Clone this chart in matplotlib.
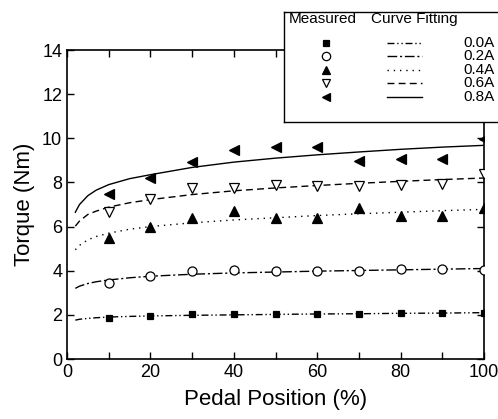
import numpy as np
import matplotlib.pyplot as plt
from matplotlib.ticker import MultipleLocator

plt.rcParams['font.family'] = ['Liberation Sans', 'DejaVu Sans']

# measured points
pos = [10, 20, 30, 40, 50, 60, 70, 80, 90, 100]
meas_00 = [1.87, 1.95, 2.05, 2.06, 2.06, 2.06, 2.06, 2.07, 2.08, 2.08]
meas_02 = [3.43, 3.77, 3.98, 4.03, 4.00, 4.00, 3.98, 4.06, 4.10, 4.03]
meas_04 = [5.46, 5.99, 6.39, 6.71, 6.37, 6.37, 6.86, 6.47, 6.47, 6.82]
meas_06 = [6.64, 7.27, 7.77, 7.77, 7.87, 7.83, 7.83, 7.90, 7.92, 8.40]
meas_08 = [7.47, 8.20, 8.93, 9.46, 9.60, 9.60, 8.97, 9.04, 9.08, 9.99]

# fitted curves
fit_x = [2, 3, 5, 7, 10, 15, 20, 30, 40, 50, 60, 70, 80, 90, 100]
fit_00 = [1.76, 1.80, 1.84, 1.87, 1.90, 1.93, 1.95, 1.98, 2.00, 2.02, 2.04, 2.05, 2.07, 2.08, 2.10]
fit_02 = [3.20, 3.30, 3.42, 3.50, 3.58, 3.68, 3.75, 3.84, 3.90, 3.94, 3.98, 4.01, 4.04, 4.07, 4.10]
fit_04 = [4.95, 5.15, 5.40, 5.55, 5.70, 5.88, 6.00, 6.17, 6.30, 6.40, 6.50, 6.58, 6.65, 6.72, 6.78]
fit_06 = [6.02, 6.25, 6.55, 6.70, 6.88, 7.08, 7.22, 7.45, 7.62, 7.75, 7.86, 7.96, 8.05, 8.13, 8.20]
fit_08 = [6.65, 7.00, 7.40, 7.65, 7.90, 8.17, 8.35, 8.68, 8.92, 9.10, 9.25, 9.38, 9.50, 9.60, 9.68]

labels = ['0.0A', '0.2A', '0.4A', '0.6A', '0.8A']
markers = ['s', 'o', '^', 'v', '<']
filled = [True, False, True, False, True]
styles = [(0, (5, 2, 1, 2, 1, 2)), (0, (7, 2, 1.5, 2)), (0, (1, 3.5)), (0, (5, 3)), '-']
meas = [meas_00, meas_02, meas_04, meas_06, meas_08]
fits = [fit_00, fit_02, fit_04, fit_06, fit_08]

fig = plt.figure(figsize=(4.98, 4.19), dpi=100)
ax = fig.add_axes([67 / 498, 1 - 359 / 419, (484 - 67) / 498, (359 - 50) / 419])

for i in range(5):
    ax.plot(fit_x, fits[i], color='black', lw=1.0, linestyle=styles[i])
    ax.plot(pos, meas[i], linestyle='none', marker=markers[i], ms=6.5 if markers[i] != 's' else 5,
            mfc='black' if filled[i] else 'white', mec='black', mew=0.9, zorder=3, clip_on=True)

ax.set_xlim(0, 100)
ax.set_ylim(0, 14)
ax.xaxis.set_major_locator(MultipleLocator(20))
ax.xaxis.set_minor_locator(MultipleLocator(10))
ax.yaxis.set_major_locator(MultipleLocator(2))
ax.tick_params(which='both', direction='in', top=True, right=True, labelsize=13)
ax.tick_params(which='major', length=5, width=1)
ax.tick_params(which='minor', length=5, width=1)
for s in ax.spines.values():
    s.set_linewidth(1.2)
ax.set_xlabel('Pedal Position (%)', fontsize=16, labelpad=6)
ax.set_ylabel('Torque (Nm)', fontsize=16, labelpad=5)

# legend box drawn as a small inset axes (pixel-like coordinates)
lg = fig.add_axes([284 / 498, 1 - 122 / 419, 240 / 498, 110 / 419])
lg.set_xlim(0, 240)
lg.set_ylim(110, 0)
lg.set_xticks([])
lg.set_yticks([])
for s in lg.spines.values():
    s.set_linewidth(1.0)
lg.text(5, 7, 'Measured', fontsize=11, va='center', ha='left')
lg.text(87, 7, 'Curve Fitting', fontsize=11, va='center', ha='left')
rows = [31, 44, 58, 71, 85]
for i in range(5):
    lg.plot([42], [rows[i]], linestyle='none', marker=markers[i], ms=6 if markers[i] != 's' else 5,
            mfc='black' if filled[i] else 'white', mec='black', mew=0.9)
    lg.plot([103, 138], [rows[i], rows[i]], color='black', lw=1.0, linestyle=styles[i])
    lg.text(179, rows[i], labels[i], fontsize=11, va='center', ha='left')

fig.savefig('out.png', dpi=100)
